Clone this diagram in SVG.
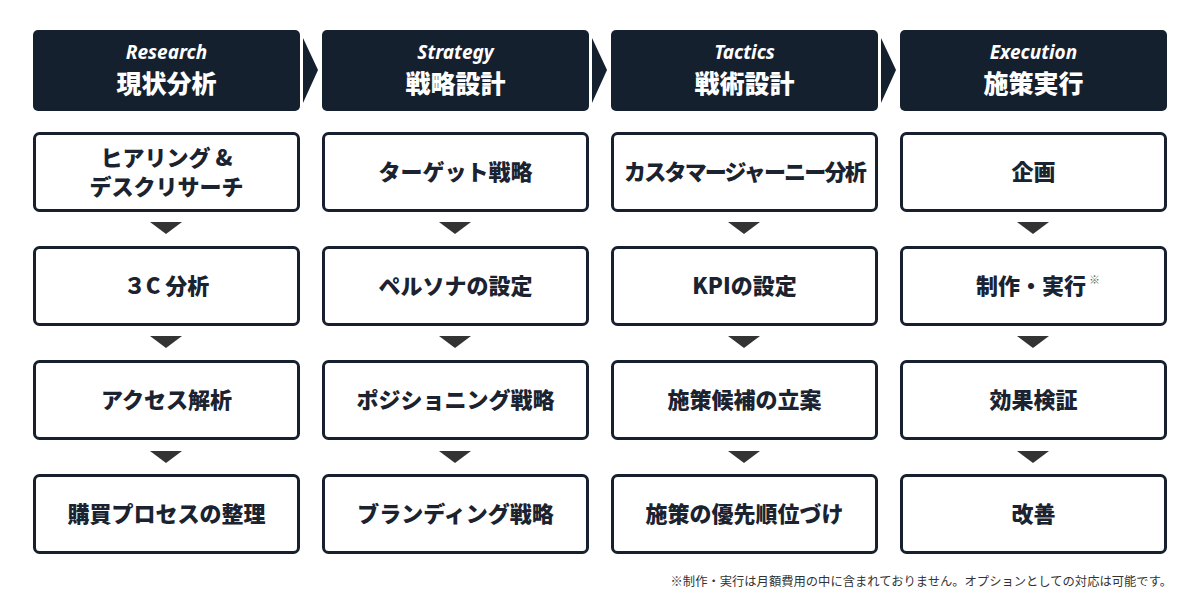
<svg xmlns="http://www.w3.org/2000/svg" width="1200" height="600" viewBox="0 0 1200 600">
<style>
.hd{fill:#15202f}
.bx{fill:#fff;stroke:#16202e;stroke-width:3}
.en{font-family:"Noto Sans","Open Sans",sans-serif;font-style:italic;font-weight:700;font-size:19px;fill:#fff;text-anchor:middle}
.jp{font-family:"Noto Sans CJK JP",sans-serif;font-weight:900;font-size:25px;fill:#fff;text-anchor:middle}
.t{font-family:"Noto Sans CJK JP",sans-serif;font-weight:900;font-size:22px;fill:#1b2330;text-anchor:middle}
.chev{fill:#15202f}
.tri{fill:#333}
.note{font-family:"Noto Sans CJK JP",sans-serif;font-size:12.3px;fill:#333;text-anchor:end}
</style>
<g id="connectors">
<polygon class="chev" points="303,38 318,70 303,103"/>
<polygon class="chev" points="592,38 607,70 592,103"/>
<polygon class="chev" points="881,38 896,70 881,103"/>
<polygon class="tri" points="150,222 182,222 166,234"/>
<polygon class="tri" points="150,336 182,336 166,348"/>
<polygon class="tri" points="150,451 182,451 166,463"/>
<polygon class="tri" points="439,222 471,222 455,234"/>
<polygon class="tri" points="439,336 471,336 455,348"/>
<polygon class="tri" points="439,451 471,451 455,463"/>
<polygon class="tri" points="728,222 760,222 744,234"/>
<polygon class="tri" points="728,336 760,336 744,348"/>
<polygon class="tri" points="728,451 760,451 744,463"/>
<polygon class="tri" points="1017,222 1049,222 1033,234"/>
<polygon class="tri" points="1017,336 1049,336 1033,348"/>
<polygon class="tri" points="1017,451 1049,451 1033,463"/>
</g>
<g id="h1"><rect class="hd" x="33" y="30" width="267" height="81" rx="5"/><text class="en" x="166.5" y="59">Research</text><text class="jp" x="166.5" y="93">現状分析</text></g>
<g id="h2"><rect class="hd" x="322" y="30" width="267" height="81" rx="5"/><text class="en" x="455.5" y="59">Strategy</text><text class="jp" x="455.5" y="93">戦略設計</text></g>
<g id="h3"><rect class="hd" x="611" y="30" width="267" height="81" rx="5"/><text class="en" x="744.5" y="59">Tactics</text><text class="jp" x="744.5" y="93">戦術設計</text></g>
<g id="h4"><rect class="hd" x="900" y="30" width="267" height="81" rx="5"/><text class="en" x="1033.5" y="59">Execution</text><text class="jp" x="1033.5" y="93">施策実行</text></g>

<g id="c1r1"><rect class="bx" x="34.5" y="133.5" width="264" height="77" rx="5"/><text class="t" x="166.5" y="166">ヒアリング &amp;</text><text class="t" x="166.5" y="195">デスクリサーチ</text></g>
<g id="c1r2"><rect class="bx" x="34.5" y="247.5" width="264" height="77" rx="5"/><text class="t" x="166.5" y="294">３C 分析</text></g>
<g id="c1r3"><rect class="bx" x="34.5" y="361.5" width="264" height="77" rx="5"/><text class="t" x="166.5" y="408">アクセス解析</text></g>
<g id="c1r4"><rect class="bx" x="34.5" y="475.5" width="264" height="77" rx="5"/><text class="t" x="166.5" y="522">購買プロセスの整理</text></g>

<g id="c2r1"><rect class="bx" x="323.5" y="133.5" width="264" height="77" rx="5"/><text class="t" x="455.5" y="180">ターゲット戦略</text></g>
<g id="c2r2"><rect class="bx" x="323.5" y="247.5" width="264" height="77" rx="5"/><text class="t" x="455.5" y="294">ペルソナの設定</text></g>
<g id="c2r3"><rect class="bx" x="323.5" y="361.5" width="264" height="77" rx="5"/><text class="t" x="455.5" y="408">ポジショニング戦略</text></g>
<g id="c2r4"><rect class="bx" x="323.5" y="475.5" width="264" height="77" rx="5"/><text class="t" x="455.5" y="522">ブランディング戦略</text></g>

<g id="c3r1"><rect class="bx" x="612.5" y="133.5" width="264" height="77" rx="5"/><text class="t" x="744.5" y="180" font-size="21.5" letter-spacing="-1.8">カスタマージャーニー分析</text></g>
<g id="c3r2"><rect class="bx" x="612.5" y="247.5" width="264" height="77" rx="5"/><text class="t" x="744.5" y="294">KPIの設定</text></g>
<g id="c3r3"><rect class="bx" x="612.5" y="361.5" width="264" height="77" rx="5"/><text class="t" x="744.5" y="408">施策候補の立案</text></g>
<g id="c3r4"><rect class="bx" x="612.5" y="475.5" width="264" height="77" rx="5"/><text class="t" x="744.5" y="522">施策の優先順位づけ</text></g>

<g id="c4r1"><rect class="bx" x="901.5" y="133.5" width="264" height="77" rx="5"/><text class="t" x="1033.5" y="180">企画</text></g>
<g id="c4r2"><rect class="bx" x="901.5" y="247.5" width="264" height="77" rx="5"/><text class="t" x="1038" y="294">制作・実行<tspan font-size="11" font-weight="400" fill="#666" dx="3" dy="-10">※</tspan></text></g>
<g id="c4r3"><rect class="bx" x="901.5" y="361.5" width="264" height="77" rx="5"/><text class="t" x="1033.5" y="408">効果検証</text></g>
<g id="c4r4"><rect class="bx" x="901.5" y="475.5" width="264" height="77" rx="5"/><text class="t" x="1033.5" y="522">改善</text></g>

<text class="note" x="1172" y="586">※制作・実行は月額費用の中に含まれておりません。オプションとしての対応は可能です。</text>
</svg>
